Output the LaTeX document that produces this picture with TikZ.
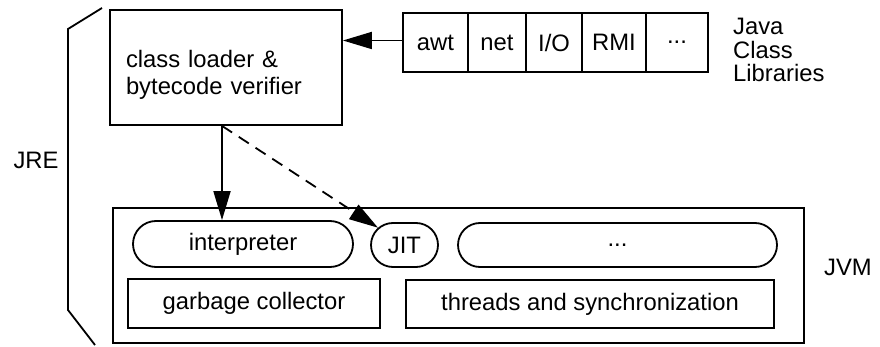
\documentclass[tikz,border=0pt]{standalone}
\usepackage{fontspec}
\setmainfont{Liberation Sans}
\usetikzlibrary{arrows.meta,shapes.misc}
\begin{document}
\begin{tikzpicture}[x=1pt,y=-1pt,
  every node/.style={font=\fontsize{23.8}{27}\selectfont},
  box/.style={draw,line width=1.8pt,inner sep=0pt},
  pill/.style={rounded rectangle,draw,line width=1.8pt,inner sep=0pt},
  arr/.style={line width=1.8pt,-{Triangle[length=29pt,width=17pt]}},
  lbl/.style={inner sep=0pt}]
\useasboundingbox (0,0) rectangle (880,347);
% JRE bracket
\draw[line width=1.8pt] (102,8) -- (68,29) -- (68,310) -- (95,345);
\node[lbl] (jre) at (36,160) {JRE};
% class loader
\node[box,minimum width=232pt,minimum height=115pt] (loader) at (226,67.5) {};
\node[lbl,align=left,text width=200pt] (loadertext) at (226,75) {class loader \&\\bytecode verifier};
% class library cells
\node[box,minimum width=65pt,minimum height=59pt] (awt) at (435.5,42.5) {awt};
\node[box,minimum width=58pt,minimum height=59pt] (net) at (497,42.5) {net};
\node[box,minimum width=56pt,minimum height=59pt] (io) at (554,42.5) {I/O};
\node[box,minimum width=64pt,minimum height=59pt] (rmi) at (614,42.5) {RMI};
\node[box,minimum width=62pt,minimum height=59pt] (more) at (677,42.5) {...};
\node[lbl,anchor=north west,align=left,font=\fontsize{23.8}{23.5}\selectfont] (jcl) at (733,18) {Java\\Class\\Libraries};
% JVM
\node[box,minimum width=691pt,minimum height=135pt] (jvm) at (458.5,275.5) {};
\node[lbl] (jvmlabel) at (848,267) {JVM};
\node[pill,minimum width=220pt,minimum height=46pt] (interp) at (243,244) {interpreter};
\node[pill,minimum width=67pt,minimum height=44pt] (jit) at (404.5,245) {JIT};
\node[pill,minimum width=319pt,minimum height=44pt] (etc) at (617.5,245) {...};
\node[box,minimum width=252pt,minimum height=49pt] (gc) at (254,303.5) {garbage collector};
\node[box,minimum width=368pt,minimum height=48pt] (thr) at (590,304) {threads and synchronization};
% connectors
\draw[arr] ([yshift=2pt]awt.west) -- ([yshift=2pt]awt.west -| loader.east);
\draw[arr] ([xshift=-4pt]loader.south) -- ([xshift=-4pt]loader.south |- interp.north);
\draw[arr,dash pattern=on 12pt off 8pt] ([xshift=-4pt]loader.south) -- (jit);
\end{tikzpicture}
\end{document}
